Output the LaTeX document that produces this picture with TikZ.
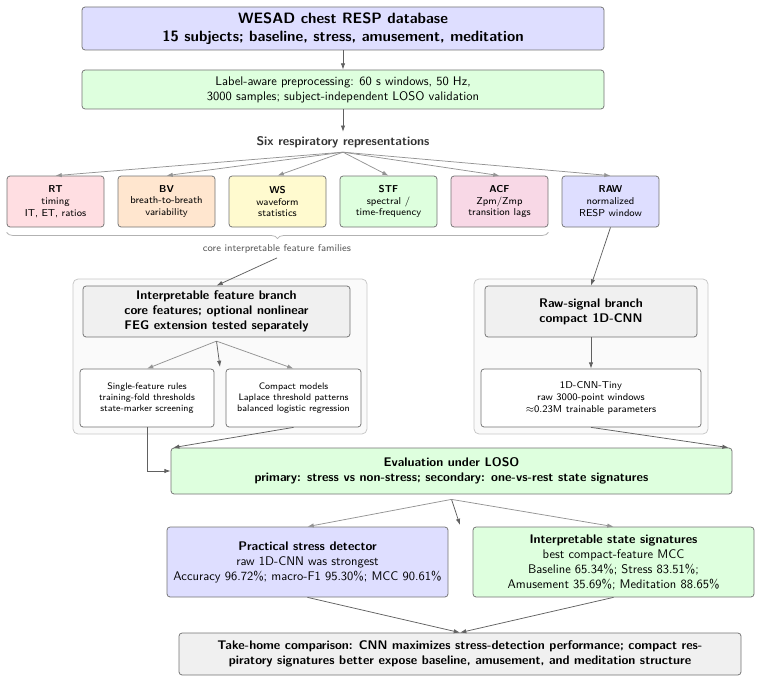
\documentclass[tikz,border=0pt]{standalone}
\usepackage{amsmath}
\usepackage{amssymb}
\usepackage{tikz}
\usetikzlibrary{arrows.meta,decorations.pathreplacing,calligraphy}
\renewcommand{\familydefault}{\sfdefault}
\definecolor{dbblue}{RGB}{222, 222, 255}
\definecolor{prepgreen}{RGB}{222, 255, 222}
\definecolor{rtpink}{RGB}{255, 222, 226}
\definecolor{bvorange}{RGB}{255, 230, 207}
\definecolor{wsyellow}{RGB}{255, 250, 207}
\definecolor{acfpink}{RGB}{248, 216, 230}
\definecolor{branchgray}{RGB}{240, 240, 240}
\definecolor{groupgray}{RGB}{250, 250, 250}
\newcommand{\ux}{0.8pt}

\tikzset{
  card/.style={draw=black!55, line width=0.6pt, rounded corners=2.5pt, align=center, inner sep=2pt},
  group/.style={draw=black!22, fill=groupgray, line width=0.6pt, rounded corners=4pt},
  arr/.style={-{Latex[length=5pt,width=3.5pt]}, black!62, line width=0.6pt},
  arrsoft/.style={arr, black!42},
}

\begin{document}
\begin{tikzpicture}[x=\ux, y=-\ux]
\useasboundingbox (0,0) rectangle (761,683);

% Database and preprocessing
\node[card, fill=dbblue, font=\large\bfseries, minimum width=522*\ux, minimum height=43*\ux] (db) at (343,28.5)
  {WESAD chest RESP database\\15 subjects; baseline, stress, amusement, meditation};
\node[card, fill=prepgreen, font=\normalsize, minimum width=522*\ux, minimum height=39*\ux] (prep) at (343,89.5)
  {Label-aware preprocessing: 60 s windows, 50 Hz,\\3000 samples; subject-independent LOSO validation};
\node[font=\normalsize\bfseries, text=black!80] (six) at (343,142) {Six respiratory representations};

% Six representation boxes
\foreach \nm/\clr/\txt [count=\k from 0] in {
  rt/rtpink/{\textbf{RT}\\timing\\IT, ET, ratios},
  bv/bvorange/{\textbf{BV}\\breath-to-breath\\variability},
  ws/wsyellow/{\textbf{WS}\\waveform\\statistics},
  stf/prepgreen/{\textbf{STF}\\spectral /\\time-frequency},
  acf/acfpink/{\textbf{ACF}\\Zpm/Zmp\\transition lags},
  raw/dbblue/{\textbf{RAW}\\normalized\\RESP window}} {
  \node[card, fill=\clr, font=\footnotesize, minimum width=97*\ux, minimum height=51*\ux] (\nm) at (55.5+111*\k,201.5) {\txt};
  \draw[arrsoft] (six.south) -- (\nm.north);
}

% Brace over the interpretable families
\draw[decorate, decoration={brace, mirror, amplitude=5pt}, black!30, line width=0.6pt]
  ([yshift=-4pt]rt.south west) -- ([yshift=-4pt]acf.south east);
\node[font=\footnotesize, text=black!65] (fam) at (277,249) {core interpretable feature families};

% Branch groups
\node[group, minimum width=294*\ux, minimum height=155*\ux] (featgrp) at (220,356.5) {};
\node[group, minimum width=234*\ux, minimum height=155*\ux] (rawgrp) at (591,356.5) {};

\node[card, fill=branchgray, font=\bfseries, minimum width=267*\ux, minimum height=51*\ux] (feat) at (216.5,311.5)
  {Interpretable feature branch\\core features; optional nonlinear\\FEG extension tested separately};
\node[card, fill=white, font=\fontsize{7.5}{9}\selectfont, minimum width=134*\ux, minimum height=58*\ux] (rules) at (147,398)
  {Single-feature rules\\training-fold thresholds\\state-marker screening};
\node[card, fill=white, font=\fontsize{7.5}{9}\selectfont, minimum width=135*\ux, minimum height=58*\ux] (compact) at (293.5,398)
  {Compact models\\Laplace threshold patterns\\balanced logistic regression};

\node[card, fill=branchgray, font=\bfseries, minimum width=212*\ux, minimum height=51*\ux] (rawbr) at (591,311.5)
  {Raw-signal branch\\compact 1D-CNN};
\node[card, fill=white, font=\footnotesize, minimum width=220*\ux, minimum height=58*\ux] (tiny) at (591,398)
  {1D-CNN-Tiny\\raw 3000-point windows\\$\approx$0.23M trainable parameters};

% Evaluation and outcomes
\node[card, fill=prepgreen, font=\normalsize\bfseries, minimum width=561*\ux, minimum height=46*\ux] (eval) at (451.5,471)
  {Evaluation under LOSO\\primary: stress vs non-stress; secondary: one-vs-rest state signatures};
\node[card, fill=dbblue, font=\normalsize, minimum width=281*\ux, minimum height=70*\ux] (prac) at (307.5,562)
  {\textbf{Practical stress detector}\\raw 1D-CNN was strongest\\Accuracy 96.72\%; macro-F1 95.30\%; MCC 90.61\%};
\node[card, fill=prepgreen, font=\normalsize, minimum width=281*\ux, minimum height=70*\ux] (sig) at (613.5,562)
  {\textbf{Interpretable state signatures}\\best compact-feature MCC\\Baseline 65.34\%; Stress 83.51\%;\\Amusement 35.69\%; Meditation 88.65\%};
\node[card, fill=branchgray, font=\normalsize\bfseries, minimum width=562*\ux, minimum height=42*\ux] (take) at (460,654)
  {Take-home comparison: CNN maximizes stress-detection performance; compact res-\\piratory signatures better expose baseline, amusement, and meditation structure};

% Split points
\coordinate (featsplit) at ([yshift=-3pt]feat.south);
\coordinate (featgap) at (220,367);
\coordinate (evalsplit) at ([yshift=-4pt]eval.south);
\coordinate (evalgap) at (460,525);

% Connectors
\draw[arr] (db) -- (prep);
\draw[arr] (prep) -- (six);
\draw[arr] (fam.south) -- (feat.north);
\draw[arr] (raw.south) -- (rawbr.north);
\draw[arrsoft] (featsplit) -- (rules.north);
\draw[arr] (featsplit) -- (featgap);
\draw[arrsoft] (featsplit) -- (compact.north);
\draw[arr] (rawbr) -- (tiny);
\draw[arr] (rules.south) |- (eval.west);
\draw[arr] (compact.south) -- ([xshift=2pt]eval.north west);
\draw[arr] (tiny.south) -- ([xshift=-3pt]eval.north east);
\draw[arrsoft] (evalsplit) -- (prac.north);
\draw[arr] (evalsplit) -- (evalgap);
\draw[arrsoft] (evalsplit) -- (sig.north);
\draw[arr] (prac.south) -- (take.north);
\draw[arr] (sig.south) -- (take.north);

\end{tikzpicture}
\end{document}
